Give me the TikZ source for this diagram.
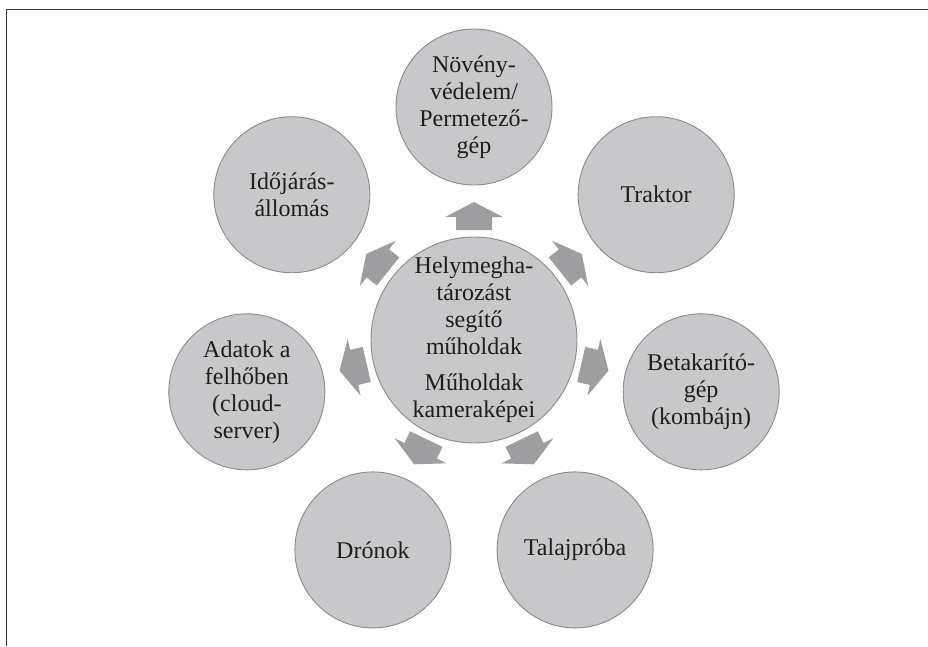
\documentclass[tikz,border=0pt]{standalone}
\usepackage{fontspec}
\setmainfont{Liberation Serif}
\usepackage{tikz}
\usetikzlibrary{calc}
\definecolor{kreis}{RGB}{200,200,202}
\definecolor{kreisrand}{RGB}{138,138,140}
\definecolor{pfeil}{RGB}{158,158,161}
\definecolor{schrift}{RGB}{30,30,30}
\definecolor{rahmen}{RGB}{55,55,55}
\tikzset{
  kreisnode/.style={circle, fill=kreis, draw=kreisrand, line width=0.9pt, inner sep=0pt,
    minimum size=156pt, align=center, text=schrift, font=\fontsize{24}{27}\selectfont},
  blockpfeil/.pic={\fill[pfeil] (-14,-18) -- (-1,-18) -- (-1,-29) -- (14,0) -- (-1,29) -- (-1,18) -- (-14,18) -- cycle;}
}

\begin{document}
\begin{tikzpicture}[x=1pt,y=1pt]
\useasboundingbox (-474,-306) rectangle (454,340);
\pgfmathsetmacro{\ring}{233}
% Rahmen
\draw[rahmen, line width=1.7pt] (-467.5,-306) -- (-467.5,330.5) -- (454,330.5);
% Mitte
\node[kreisnode, minimum size=188pt] (hub) at (0,0) {Helymegha-\\tározást\\segítő\\műholdak\\[9pt]Műholdak\\kameraképei};
% Ring
\foreach \txt [count=\i from 0] in {{Növény-\\védelem/\\Permetező-\\gép},{Traktor},{Betakarító-\\gép\\(kombájn)},{Talajpróba},{Drónok},{Adatok a\\felhőben\\(cloud-\\server)},{Időjárás-\\állomás}}
{
  \pgfmathsetmacro{\w}{90-\i*360/7}
  \node[kreisnode] (k\i) at (\w:\ring) {\txt};
  \pic[rotate=\w] at ($(hub)!0.532!(k\i)$) {blockpfeil};
}
\end{tikzpicture}
\end{document}
